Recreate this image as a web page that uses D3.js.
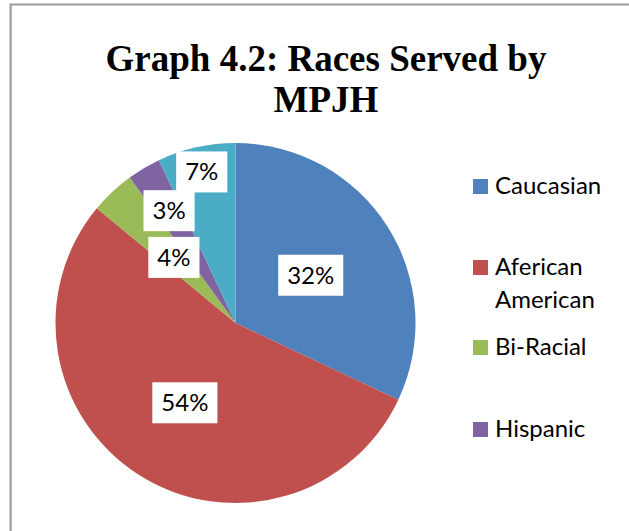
<!DOCTYPE html>
<html>
<head>
<meta charset="utf-8">
<script src="https://cdn.jsdelivr.net/npm/d3@7"></script>
<style>
  html, body { margin: 0; padding: 0; background: #fff; }
  svg { display: block; }
</style>
</head>
<body>
<svg id="chart" width="629" height="531"></svg>
<script>
// Race breakdown (percent of people served)
const categories = ["Caucasian", "Aferican American", "Bi-Racial", "Hispanic", "Other"];
const shares = [32, 54, 4, 3, 7];
const sliceColors = ["#4F81BD", "#C0504D", "#9BBB59", "#8064A2", "#4BACC6"];
const titleLines = ["Graph 4.2: Races Served by", "MPJH"];
// legend rows shown in the chart area (label text split across lines)
const legendRows = [["Caucasian"], ["Aferican", "American"], ["Bi-Racial"], ["Hispanic"]];

// layout
const width = 629, height = 531;
const cx = 235.5, cy = 323, R = 180;
// label anchor distance along each slice's mid angle, as a fraction of R
const labelDist = [0.495, 0.525, 0.5, 0.725, 0.86];

const svg = d3.select("#chart");

// frame
svg.append("path")
  .attr("d", `M10.6,${height} V4.5 H${width}`)
  .attr("fill", "none")
  .attr("stroke", "#9c9c9c")
  .attr("stroke-width", 2.2);

// title
const title = svg.append("text")
  .attr("x", 326)
  .attr("text-anchor", "middle")
  .attr("font-family", "'Liberation Serif', 'Times New Roman', serif")
  .attr("font-weight", "bold")
  .attr("font-size", 37)
  .attr("fill", "#000");
title.selectAll("tspan").data(titleLines).join("tspan")
  .attr("x", 326)
  .attr("y", (d, i) => 70.7 + i * 41)
  .text(d => d);

// pie
const pie = d3.pie().sort(null).value(d => d)
  .startAngle(0).endAngle(2 * Math.PI);
const arcs = pie(shares);
const arc = d3.arc().innerRadius(0).outerRadius(R);
const color = d3.scaleOrdinal().domain(categories).range(sliceColors);

const g = svg.append("g").attr("transform", `translate(${cx},${cy})`);
g.selectAll("path.slice").data(arcs).join("path")
  .attr("class", "slice")
  .attr("d", arc)
  .attr("fill", (d, i) => color(categories[i]));

// data labels in white boxes
const labelFont = "Lato, 'Noto Sans', sans-serif";
const lab = g.selectAll("g.lab").data(arcs).join("g").attr("class", "lab");
lab.each(function(d, i) {
  const r = labelDist[i] * R;
  const c = d3.arc().innerRadius(r).outerRadius(r).centroid(d);
  const grp = d3.select(this).attr("transform", `translate(${c[0]},${c[1]})`);
  const rect = grp.append("rect").attr("fill", "#fff");
  const t = grp.append("text")
    .attr("text-anchor", "middle")
    .attr("y", 8.5)
    .attr("font-family", labelFont)
    .attr("font-size", 24)
    .attr("fill", "#000")
    .text(d3.format(".0f")(d.data) + "%");
  const w = t.node().getComputedTextLength() + 18;
  rect.attr("x", -w / 2).attr("y", -20.5).attr("width", w).attr("height", 41);
});

// legend
const legendY = [194, 275, 355, 437];
const leg = svg.append("g");
legendRows.forEach((lines, i) => {
  const y = legendY[i];
  leg.append("rect")
    .attr("x", 473).attr("y", y - 15)
    .attr("width", 15).attr("height", 15)
    .attr("fill", color(categories[i]));
  const t = leg.append("text")
    .attr("font-family", labelFont)
    .attr("font-size", 24)
    .attr("fill", "#000");
  t.selectAll("tspan").data(lines).join("tspan")
    .attr("x", 495)
    .attr("y", (d, j) => y + j * 32.7)
    .text(d => d);
});
</script>
</body>
</html>
